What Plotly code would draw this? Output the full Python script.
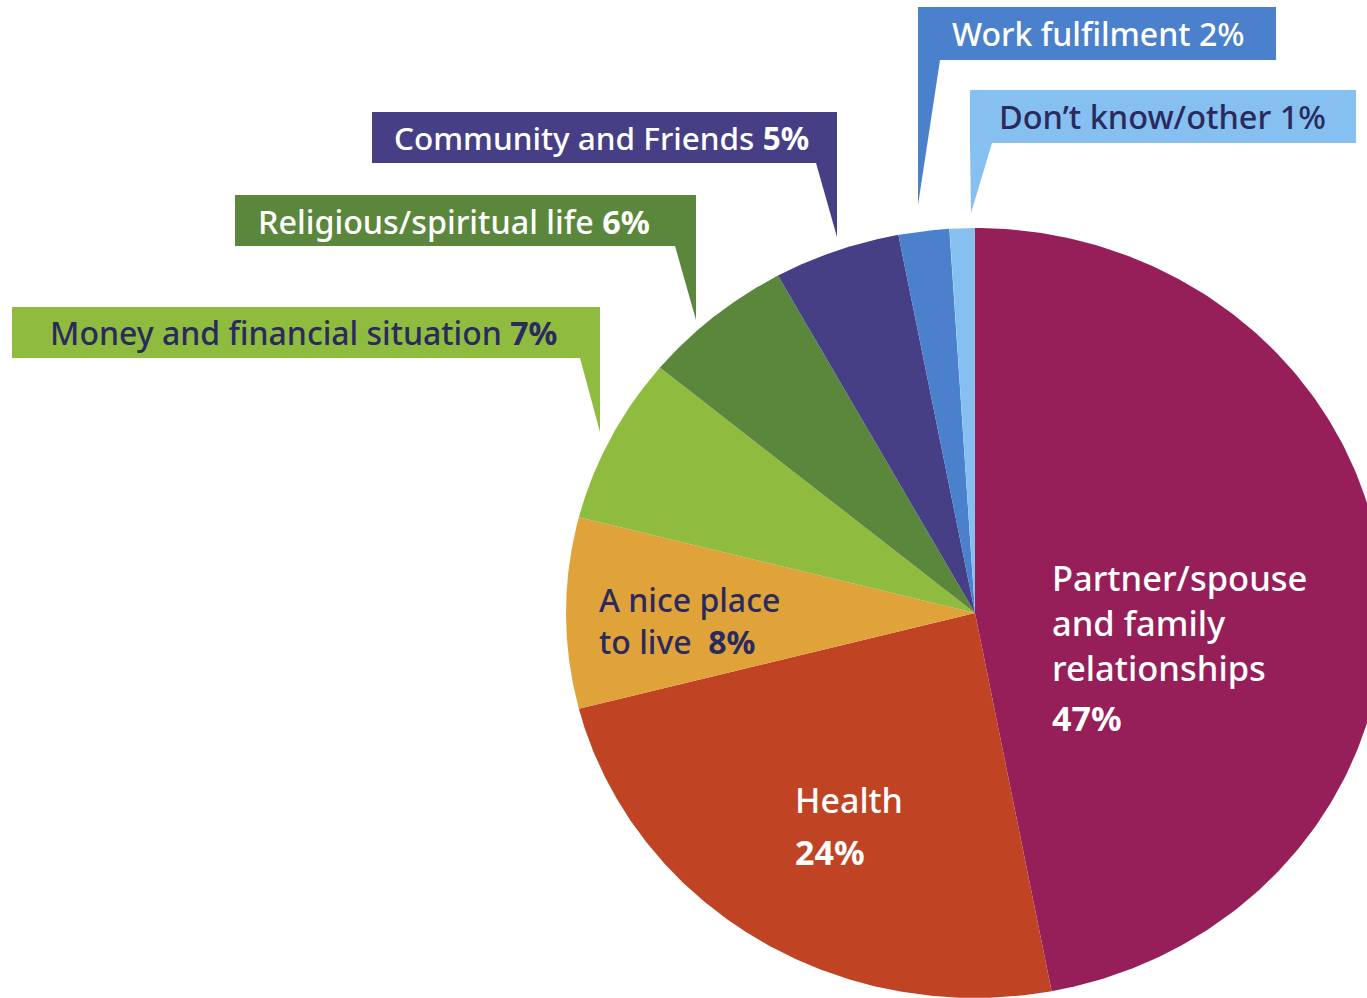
import numpy as np
import plotly.graph_objects as go

# Data

labels = ["Partner/spouse and family relationships", "Health", "A nice place to live",
          "Money and financial situation", "Religious/spiritual life",
          "Community and Friends", "Work fulfilment", "Don't know/other"]
values = [47, 24, 8, 7, 6, 5, 2, 1]
colors = ["#961f5a", "#c04424", "#e0a33a", "#8fbc3e", "#5a873c",
          "#463f86", "#4a80cc", "#85c0f0"]

# Pie geometry (pixel units of the page)
cx, cy = 975, 613
rx, ry = 409, 385

W, H = 1367, 998
FONT = "Noto Sans"
NAVY = "#2b2a5e"

fig = go.Figure()

# Wedges, clockwise from 12 o'clock
total = sum(values)
start = 0.0
for lab, val, col in zip(labels, values, colors):
    end = start + val / total
    t = np.linspace(start, end, 200) * 2 * np.pi
    xs = np.concatenate([[cx], cx + rx * np.sin(t), [cx]])
    ys = np.concatenate([[cy], cy - ry * np.cos(t), [cy]])
    fig.add_trace(go.Scatter(
        x=xs, y=ys,
        mode="lines",
        fill="toself",
        fillcolor=col,
        line=dict(width=0, color=col),
        name=lab,
        hoverinfo="name",
        showlegend=False
    ))
    start = end

# Callout boxes: (x0, y0, x1, y1, tail path, colour, text, text colour, text x, size)
callouts = [
    (12, 307, 600, 358, "M 580 358 L 600 358 L 600 432 Z", colors[3],
     "Money and financial situation <b>7%</b>", NAVY, 48, 32),
    (235, 195, 696, 246, "M 675 246 L 696 246 L 696 320 Z", colors[4],
     "Religious/spiritual life <b>6%</b>", "white", 256, 32.3),
    (372, 112, 837, 163, "M 816 163 L 837 163 L 837 237 Z", colors[5],
     "Community and Friends <b>5%</b>", "white", 392, 31.5),
    (918, 7, 1276, 60, "M 918 60 L 940 60 L 918 205 Z", colors[6],
     "Work fulfilment 2%", "white", 950, 32),
    (970, 90, 1356, 143, "M 970 143 L 992 143 L 971 213 Z", colors[7],
     "Don\u2019t know/other 1%", NAVY, 997, 32.5),
]
for x0, y0, x1, y1, tail, col, txt, tcol, tx, sz in callouts:
    fig.add_shape(type="rect", x0=x0, y0=y0, x1=x1, y1=y1,
                  fillcolor=col, line=dict(width=0), layer="above")
    fig.add_shape(type="path", path=tail,
                  fillcolor=col, line=dict(width=0), layer="above")
    fig.add_annotation(x=tx, y=(y0 + y1) / 2, text=txt, showarrow=False,
                       xanchor="left", yanchor="middle",
                       font=dict(family=FONT, size=sz, color=tcol, weight=500))

# In-slice labels
inner = [
    (1050, 622, "Partner/spouse<br>and family<br>relationships", "white", 34.5),
    (1050, 718, "<b>47%</b>", "white", 34),
    (793, 800, "Health", "white", 34),
    (793, 852, "<b>24%</b>", "white", 34),
    (597, 620, "A nice place<br>to live  <b>8%</b>", NAVY, 32),
]
for x, y, txt, tcol, sz in inner:
    fig.add_annotation(x=x, y=y, text=txt, showarrow=False,
                       xanchor="left", yanchor="middle", align="left",
                       font=dict(family=FONT, size=sz, color=tcol, weight=500))

fig.update_layout(
    width=W, height=H,
    margin=dict(l=0, r=0, t=0, b=0),
    paper_bgcolor="white",
    plot_bgcolor="white",
    xaxis=dict(range=[0, W], visible=False, fixedrange=True),
    yaxis=dict(range=[H, 0], visible=False, fixedrange=True),
    showlegend=False
)
# drop the page's default 8px body margin so the figure fills the window
fig.write_html("out.html",
               config={"displayModeBar": False},
               post_script="document.body.style.margin='0';"
                           "document.body.style.overflow='hidden';")
